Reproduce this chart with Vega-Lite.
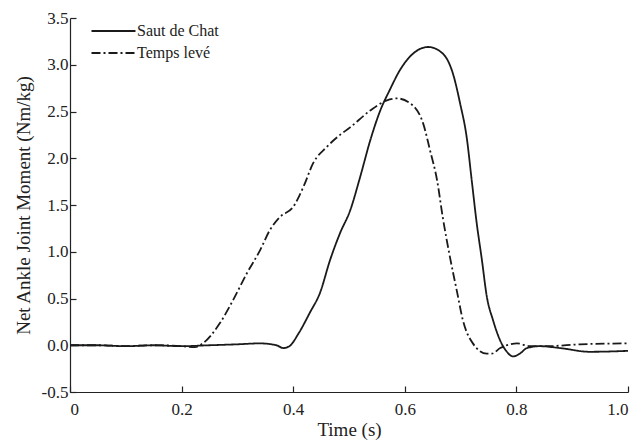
{
  "$schema": "https://vega.github.io/schema/vega-lite/v6.json",
  "autosize": "none",
  "width": 558,
  "height": 374,
  "padding": {"left": 70, "top": 18, "right": 15, "bottom": 50},
  "background": "white",
  "config": {
    "view": {"stroke": null},
    "font": "Liberation Serif",
    "axis": {
      "domainColor": "#222",
      "domainWidth": 1.2,
      "tickColor": "#222",
      "tickWidth": 1.2,
      "tickSize": -6,
      "grid": false,
      "labelFont": "Liberation Serif",
      "labelFontSize": 17,
      "labelColor": "#222",
      "titleFont": "Liberation Serif",
      "titleFontSize": 19,
      "titleFontWeight": "normal",
      "titleColor": "#222"
    }
  },
  "data": {
    "values": [
      {"t": 0, "m": 0.00, "s": "Saut de Chat"},
      {"t": 0.05, "m": 0.00, "s": "Saut de Chat"},
      {"t": 0.1, "m": -0.01, "s": "Saut de Chat"},
      {"t": 0.15, "m": 0.00, "s": "Saut de Chat"},
      {"t": 0.2, "m": -0.01, "s": "Saut de Chat"},
      {"t": 0.25, "m": 0.00, "s": "Saut de Chat"},
      {"t": 0.3, "m": 0.01, "s": "Saut de Chat"},
      {"t": 0.34, "m": 0.02, "s": "Saut de Chat"},
      {"t": 0.37, "m": 0.00, "s": "Saut de Chat"},
      {"t": 0.382, "m": -0.03, "s": "Saut de Chat"},
      {"t": 0.393, "m": -0.01, "s": "Saut de Chat"},
      {"t": 0.41, "m": 0.13, "s": "Saut de Chat"},
      {"t": 0.43, "m": 0.35, "s": "Saut de Chat"},
      {"t": 0.448, "m": 0.56, "s": "Saut de Chat"},
      {"t": 0.466, "m": 0.91, "s": "Saut de Chat"},
      {"t": 0.484, "m": 1.2, "s": "Saut de Chat"},
      {"t": 0.502, "m": 1.44, "s": "Saut de Chat"},
      {"t": 0.52, "m": 1.80, "s": "Saut de Chat"},
      {"t": 0.538, "m": 2.19, "s": "Saut de Chat"},
      {"t": 0.556, "m": 2.51, "s": "Saut de Chat"},
      {"t": 0.573, "m": 2.73, "s": "Saut de Chat"},
      {"t": 0.591, "m": 2.94, "s": "Saut de Chat"},
      {"t": 0.615, "m": 3.12, "s": "Saut de Chat"},
      {"t": 0.642, "m": 3.19, "s": "Saut de Chat"},
      {"t": 0.668, "m": 3.12, "s": "Saut de Chat"},
      {"t": 0.686, "m": 2.91, "s": "Saut de Chat"},
      {"t": 0.699, "m": 2.59, "s": "Saut de Chat"},
      {"t": 0.711, "m": 2.22, "s": "Saut de Chat"},
      {"t": 0.72, "m": 1.76, "s": "Saut de Chat"},
      {"t": 0.729, "m": 1.30, "s": "Saut de Chat"},
      {"t": 0.738, "m": 0.92, "s": "Saut de Chat"},
      {"t": 0.747, "m": 0.52, "s": "Saut de Chat"},
      {"t": 0.758, "m": 0.27, "s": "Saut de Chat"},
      {"t": 0.771, "m": 0.05, "s": "Saut de Chat"},
      {"t": 0.783, "m": -0.07, "s": "Saut de Chat"},
      {"t": 0.794, "m": -0.12, "s": "Saut de Chat"},
      {"t": 0.806, "m": -0.09, "s": "Saut de Chat"},
      {"t": 0.819, "m": -0.03, "s": "Saut de Chat"},
      {"t": 0.842, "m": -0.01, "s": "Saut de Chat"},
      {"t": 0.878, "m": -0.03, "s": "Saut de Chat"},
      {"t": 0.932, "m": -0.07, "s": "Saut de Chat"},
      {"t": 1.0, "m": -0.06, "s": "Saut de Chat"},
      {"t": 0, "m": 0.00, "s": "Temps levé"},
      {"t": 0.05, "m": 0.00, "s": "Temps levé"},
      {"t": 0.1, "m": -0.01, "s": "Temps levé"},
      {"t": 0.15, "m": 0.00, "s": "Temps levé"},
      {"t": 0.2, "m": -0.01, "s": "Temps levé"},
      {"t": 0.224, "m": -0.02, "s": "Temps levé"},
      {"t": 0.238, "m": 0.02, "s": "Temps levé"},
      {"t": 0.269, "m": 0.24, "s": "Temps levé"},
      {"t": 0.292, "m": 0.48, "s": "Temps levé"},
      {"t": 0.317, "m": 0.77, "s": "Temps levé"},
      {"t": 0.341, "m": 1.02, "s": "Temps levé"},
      {"t": 0.358, "m": 1.23, "s": "Temps levé"},
      {"t": 0.376, "m": 1.37, "s": "Temps levé"},
      {"t": 0.40, "m": 1.48, "s": "Temps levé"},
      {"t": 0.418, "m": 1.69, "s": "Temps levé"},
      {"t": 0.436, "m": 1.95, "s": "Temps levé"},
      {"t": 0.46, "m": 2.12, "s": "Temps levé"},
      {"t": 0.484, "m": 2.25, "s": "Temps levé"},
      {"t": 0.502, "m": 2.33, "s": "Temps levé"},
      {"t": 0.538, "m": 2.51, "s": "Temps levé"},
      {"t": 0.568, "m": 2.62, "s": "Temps levé"},
      {"t": 0.586, "m": 2.64, "s": "Temps levé"},
      {"t": 0.609, "m": 2.59, "s": "Temps levé"},
      {"t": 0.633, "m": 2.37, "s": "Temps levé"},
      {"t": 0.645, "m": 2.09, "s": "Temps levé"},
      {"t": 0.658, "m": 1.76, "s": "Temps levé"},
      {"t": 0.668, "m": 1.37, "s": "Temps levé"},
      {"t": 0.681, "m": 0.94, "s": "Temps levé"},
      {"t": 0.694, "m": 0.56, "s": "Temps levé"},
      {"t": 0.704, "m": 0.27, "s": "Temps levé"},
      {"t": 0.722, "m": 0.02, "s": "Temps levé"},
      {"t": 0.747, "m": -0.09, "s": "Temps levé"},
      {"t": 0.756, "m": -0.09, "s": "Temps levé"},
      {"t": 0.771, "m": -0.03, "s": "Temps levé"},
      {"t": 0.789, "m": 0.01, "s": "Temps levé"},
      {"t": 0.801, "m": 0.02, "s": "Temps levé"},
      {"t": 0.824, "m": -0.01, "s": "Temps levé"},
      {"t": 0.855, "m": -0.01, "s": "Temps levé"},
      {"t": 0.914, "m": 0.01, "s": "Temps levé"},
      {"t": 1.0, "m": 0.02, "s": "Temps levé"}
    ]
  },
  "mark": {"type": "line", "interpolate": "monotone", "stroke": "#1a1a1a", "strokeWidth": 1.8},
  "encoding": {
    "x": {
      "field": "t", "type": "quantitative",
      "scale": {"domain": [0, 1], "nice": false},
      "axis": {
        "title": "Time (s)",
        "values": [0, 0.2, 0.4, 0.6, 0.8, 1.0],
        "labelExpr": "datum.value == 0 ? '0' : format(datum.value, '.1f')",
        "labelPadding": 15,
        "titlePadding": 3
      }
    },
    "y": {
      "field": "m", "type": "quantitative",
      "scale": {"domain": [-0.5, 3.5], "nice": false},
      "axis": {
        "title": "Net Ankle Joint Moment (Nm/kg)",
        "values": [-0.5, 0, 0.5, 1, 1.5, 2, 2.5, 3, 3.5],
        "labelExpr": "datum.value < 0 ? '-' + format(-datum.value, '.1f') : format(datum.value, '.1f')",
        "labelPadding": 8,
        "titlePadding": 8
      }
    },
    "strokeDash": {
      "field": "s", "type": "nominal",
      "scale": {"domain": ["Saut de Chat", "Temps levé"], "range": [[1, 0], [9, 3, 2, 3]]},
      "legend": {
        "title": null,
        "orient": "none",
        "legendX": 18,
        "legendY": 5,
        "symbolType": "M-1,0L8.78,0",
        "symbolSize": 81,
        "symbolStrokeWidth": 1.8,
        "symbolStrokeColor": "#1a1a1a",
        "labelFont": "Liberation Serif",
        "labelFontSize": 16,
        "labelColor": "#222",
        "labelOffset": 33,
        "rowPadding": 6
      }
    }
  }
}
